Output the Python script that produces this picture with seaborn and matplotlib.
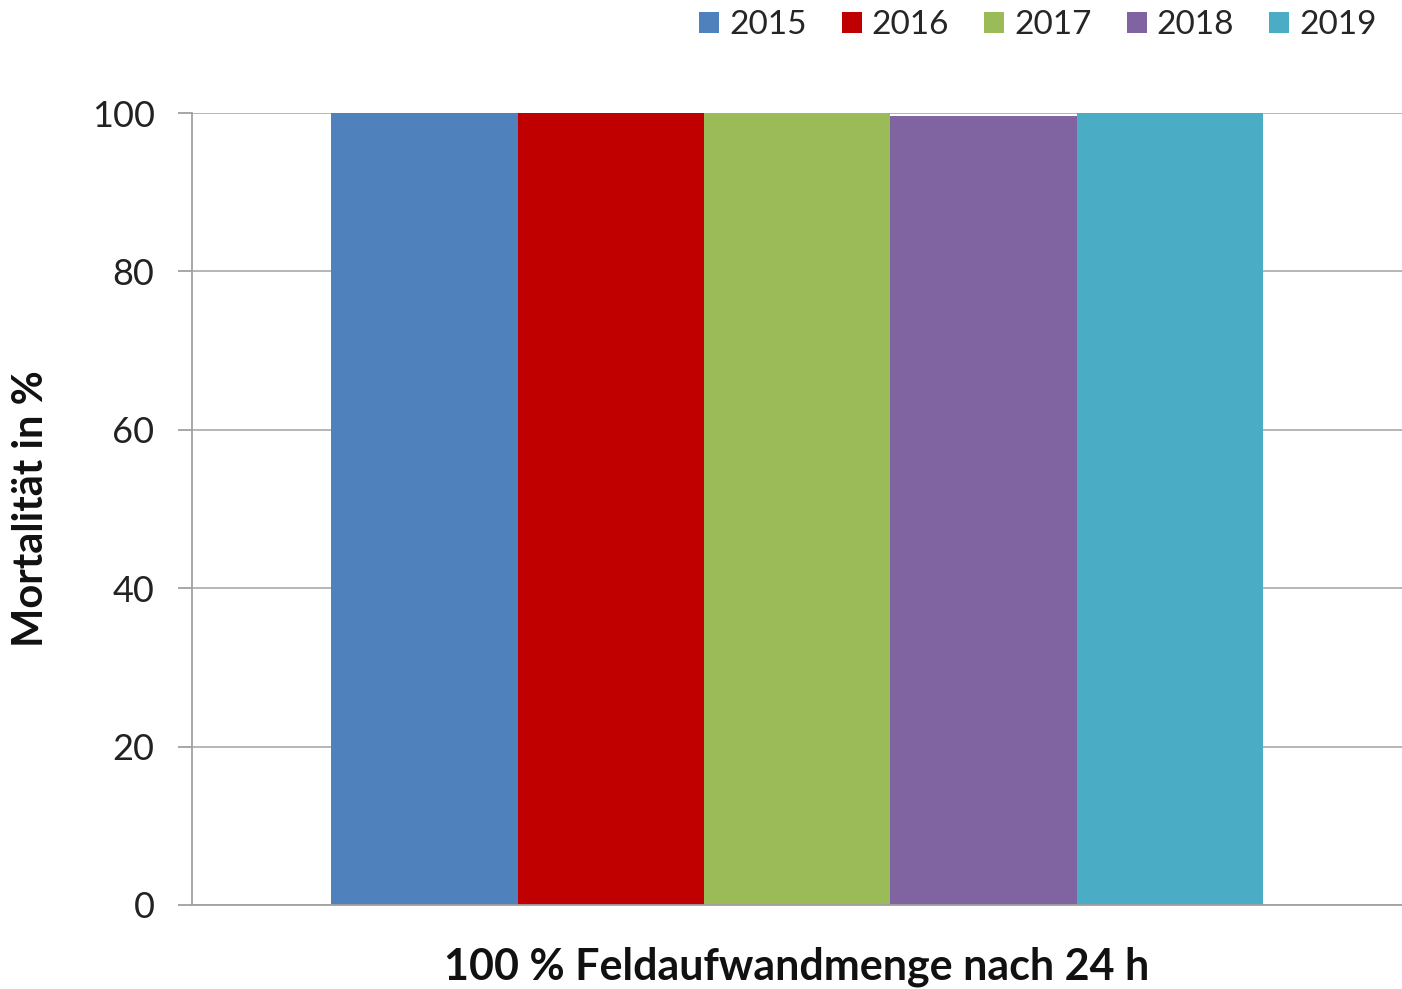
import matplotlib
matplotlib.use("Agg")
import matplotlib.pyplot as plt
import seaborn as sns
import pandas as pd

categories = ["100 % Feldaufwandmenge nach 24 h"]
years = ["2015", "2016", "2017", "2018", "2019"]
mortality = [100, 100, 100, 99.6, 100]
colors = ["#4F81BD", "#C00000", "#9BBB59", "#8064A2", "#4BACC6"]
yticks = [0, 20, 40, 60, 80, 100]

df = pd.DataFrame({"cat": categories * len(years), "year": years, "val": mortality})

sns.set_theme(style="white")
plt.rcParams["font.family"] = ["Lato", "DejaVu Sans"]

fig = plt.figure(figsize=(14.02, 9.89), dpi=100)
ax = fig.add_axes([0.137, 0.085, 0.863, 0.8007])

sns.barplot(data=df, x="cat", y="val", hue="year", hue_order=years,
            palette=colors, width=0.77, saturation=1, ax=ax, legend=True)

ax.set_ylim(0, 100)
ax.set_xlim(-0.5, 0.5)
ax.set_yticks(yticks)
ax.set_yticklabels([str(v) for v in yticks], fontsize=26, color="#222222")
ax.yaxis.grid(True, color="#b0b0b0", linewidth=1.3)
ax.set_axisbelow(True)
for s in ["top", "right"]:
    ax.spines[s].set_visible(False)
ax.spines["left"].set_color("#a0a0a0")
ax.spines["bottom"].set_color("#a0a0a0")
ax.spines["left"].set_linewidth(1.3)
ax.spines["bottom"].set_linewidth(1.3)
ax.tick_params(axis="y", left=True, length=10, width=1.3, color="#a0a0a0", pad=17)
ax.tick_params(axis="x", bottom=False, pad=24)
for t in ax.get_xticklabels():
    t.set_fontsize(31)
    t.set_fontweight("bold")
    t.set_color("#111111")
ax.set_xlabel("")
ax.set_ylabel("Mortalität in %", fontsize=30, fontweight="bold", labelpad=30, color="#111111")

for p in ax.patches:
    p.set_edgecolor("none")

leg = ax.legend(loc="upper right", bbox_to_anchor=(0.99, 1.147), ncol=5, frameon=False,
                fontsize=24, handlelength=0.6, handleheight=0.6, handletextpad=0.3,
                columnspacing=1.05, borderaxespad=0)

fig.savefig("out.png", dpi=100)
